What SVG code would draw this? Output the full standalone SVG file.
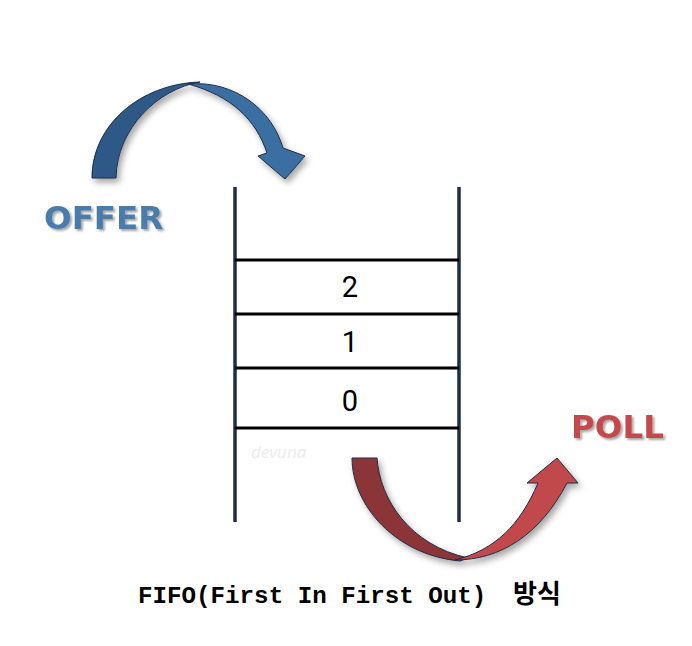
<svg xmlns="http://www.w3.org/2000/svg" width="692" height="646" viewBox="0 0 692 646">
  <defs>
    <filter id="shadow" x="-20%" y="-20%" width="150%" height="150%">
      <feDropShadow dx="3" dy="4" stdDeviation="3" flood-color="#000" flood-opacity="0.35"/>
    </filter>
    <filter id="tshadow" x="-10%" y="-10%" width="130%" height="140%">
      <feDropShadow dx="2" dy="2" stdDeviation="1.2" flood-color="#000" flood-opacity="0.35"/>
    </filter>
  </defs>
  <style>
    .post { stroke: #1e2d48; stroke-width: 3.5; }
    .shelf { stroke: #000; stroke-width: 3; }
    .num { font-family: Roboto, "Noto Sans", sans-serif; font-size: 29px; fill: #000; text-anchor: middle; }
    .label { font-family: "DejaVu Sans", "Open Sans", sans-serif; font-weight: bold; font-size: 32.5px; }
    .outline { stroke: #1e2d48; stroke-width: 1; stroke-linejoin: round; }
  </style>
  <rect width="692" height="646" fill="#fff"/>

  <g id="stack">
    <line class="post" x1="235" y1="187" x2="235" y2="522"/>
    <line class="post" x1="459" y1="187" x2="459" y2="522"/>
    <line class="shelf" x1="235" y1="260" x2="459" y2="260"/>
    <line class="shelf" x1="235" y1="314" x2="459" y2="314"/>
    <line class="shelf" x1="235" y1="368" x2="459" y2="368"/>
    <line class="shelf" x1="235" y1="428" x2="459" y2="428"/>
    <text class="num" x="350" y="297">2</text>
    <text class="num" x="350" y="352">1</text>
    <text class="num" x="350" y="411">0</text>
    <text x="251" y="458" font-family="'Open Sans', sans-serif" font-style="italic" font-size="17" fill="#ececec">devuna</text>
  </g>

  <g id="offer">
    <g filter="url(#shadow)">
      <path class="outline" fill="#2d5886" d="M 92,178 C 92,125 140,84 200,82 C 158,89 117,128 116,178 Z"/>
      <path class="outline" fill="#3a6ea1" d="M 188,84 C 235,80 272,110 283,148 L 305,156 L 285,179 L 258,156 L 267,153 C 256,120 232,96 188,84 Z"/>
    </g>
    <text class="label" x="44" y="229" fill="#4a7bab" filter="url(#tshadow)">OFFER</text>
  </g>

  <g id="poll">
    <g filter="url(#shadow)">
      <path class="outline" fill="#8b3437" d="M 352,458 L 377,458 C 380,500 410,545 468,558 L 460,561 C 395,555 352,505 352,458 Z"/>
      <path class="outline" fill="#c2484b" d="M 455,560 C 500,560 540,535 567,483 L 578,483 L 557,458 L 527,483 L 538,483 C 520,525 495,550 455,560 Z"/>
    </g>
    <text class="label" x="571" y="438" fill="#c44a4d" filter="url(#tshadow)">POLL</text>
  </g>

  <text id="caption" x="138" y="603" font-family="'Liberation Mono', 'Noto Sans CJK KR', monospace" font-weight="bold" font-size="24.2" fill="#000">FIFO(First In First Out)<tspan x="513" font-family="'Noto Sans CJK KR', sans-serif" font-size="26">방식</tspan></text>
</svg>
